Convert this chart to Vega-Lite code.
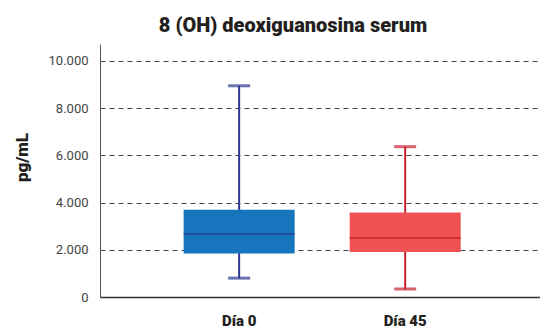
{
  "$schema": "https://vega.github.io/schema/vega-lite/v6.json",
  "width": 440,
  "height": 253,
  "autosize": {"type": "none"},
  "padding": {"left": 100, "top": 44, "right": 0, "bottom": 32},
  "background": "white",
  "title": {
    "text": "8 (OH) deoxiguanosina serum",
    "font": "Roboto",
    "fontSize": 20,
    "fontWeight": 900,
    "color": "#231f20",
    "anchor": "middle",
    "dx": -27,
    "offset": 8
  },
  "config": {
    "view": {"stroke": null},
    "font": "Roboto"
  },
  "data": {
    "values": [
      {"day": "Día 0", "min": 800, "q1": 1840, "median": 2670, "q3": 3700, "max": 8950},
      {"day": "Día 45", "min": 340, "q1": 1910, "median": 2500, "q3": 3580, "max": 6370}
    ]
  },
  "encoding": {
    "x": {
      "field": "day",
      "type": "nominal",
      "sort": ["Día 0", "Día 45"],
      "scale": {"paddingInner": 0, "paddingOuter": 0.325, "align": 0.52},
      "axis": {
        "title": null,
        "labelAngle": 0,
        "labelFont": "Roboto",
        "labelFontSize": 15,
        "labelFontWeight": 900,
        "labelColor": "#231f20",
        "labelPadding": 16,
        "ticks": false,
        "domainColor": "#333333",
        "domainWidth": 1.5,
        "grid": false
      }
    }
  },
  "layer": [
    {
      "mark": {"type": "rule", "strokeWidth": 2},
      "encoding": {
        "y": {
          "field": "min",
          "type": "quantitative",
          "scale": {"domain": [0, 10720], "nice": false},
          "axis": {
            "title": "pg/mL",
            "titleFont": "Roboto",
            "titleFontSize": 17,
            "titleFontWeight": 900,
            "titleColor": "#231f20",
            "titleX": -78,
            "titleY": 113,
            "titleAlign": "center",
            "titleBaseline": "middle",
            "titleAngle": -90,
            "values": [0, 2000, 4000, 6000, 8000, 10000],
            "labelExpr": "replace(format(datum.value, ',d'), ',', '.')",
            "labelFont": "Roboto",
            "labelFontSize": 13,
            "labelColor": "#444444",
            "labelPadding": 12,
            "ticks": false,
            "domainColor": "#555555",
            "domainWidth": 1,
            "grid": true,
            "gridColor": "#444444",
            "gridDash": [5, 4],
            "gridWidth": 1
          }
        },
        "y2": {"field": "max"},
        "color": {
          "field": "day",
          "type": "nominal",
          "scale": {"domain": ["Día 0", "Día 45"], "range": ["#2b3990", "#c8202f"]},
          "legend": null
        }
      }
    },
    {
      "mark": {"type": "bar", "size": 111},
      "encoding": {
        "y": {"field": "q1", "type": "quantitative"},
        "y2": {"field": "q3"},
        "fill": {
          "field": "day",
          "type": "nominal",
          "scale": {"domain": ["Día 0", "Día 45"], "range": ["#1675bd", "#ef5252"]},
          "legend": null
        }
      }
    },
    {
      "mark": {"type": "tick", "size": 111, "thickness": 2},
      "encoding": {
        "y": {"field": "median", "type": "quantitative"},
        "color": {"field": "day", "type": "nominal", "legend": null}
      }
    },
    {
      "mark": {"type": "tick", "size": 22, "thickness": 3},
      "encoding": {
        "y": {"field": "min", "type": "quantitative"},
        "color": {"field": "day", "type": "nominal", "legend": null}
      }
    },
    {
      "mark": {"type": "tick", "size": 22, "thickness": 3},
      "encoding": {
        "y": {"field": "max", "type": "quantitative"},
        "color": {"field": "day", "type": "nominal", "legend": null}
      }
    }
  ]
}
